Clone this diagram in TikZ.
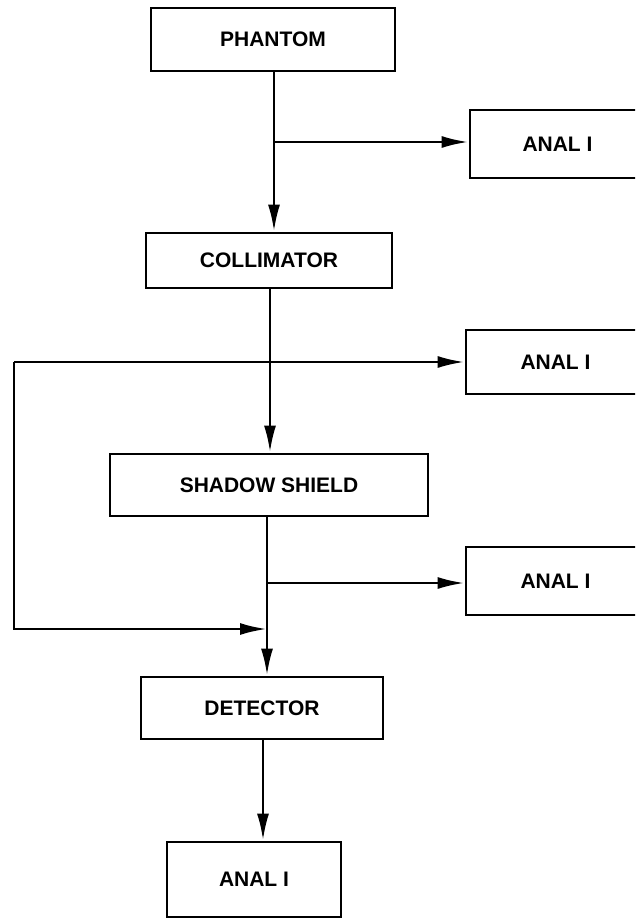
\documentclass[tikz,border=0pt]{standalone}
\usepackage{fontspec}
\setmainfont{Liberation Sans}
\usetikzlibrary{arrows.meta}
\begin{document}
\begin{tikzpicture}[x=1pt,y=-1pt,
  box/.style={draw=black, line width=2.8pt, rectangle, inner sep=0pt, anchor=center,
    font=\fontsize{21}{24}\selectfont\bfseries},
  line/.style={draw=black, line width=2.8pt},
  arr/.style={line, -{Latex[length=27pt,width=12pt]}}]
\useasboundingbox (0,0) rectangle (635,920);
\clip (0,0) rectangle (635,920);
% boxes
\node[box, minimum width=244pt, minimum height=63pt] (ph) at (273,39.5) {PHANTOM\hspace{28pt}};
\node[box, minimum width=175pt, minimum height=68pt] (a1) at (557.5,144) {ANAL I};
\node[box, minimum width=246pt, minimum height=55pt] (co) at (269,260.5) {COLLIMATOR\hspace{18pt}};
\node[box, minimum width=179pt, minimum height=64pt] (a2) at (555.5,362) {ANAL I};
\node[box, minimum width=318pt, minimum height=62pt] (ss) at (269,485) {SHADOW SHIELD\hspace{20pt}};
\node[box, minimum width=179pt, minimum height=68pt] (a3) at (555.5,581) {ANAL I};
\node[box, minimum width=242pt, minimum height=62pt] (de) at (262,708) {DETECTOR\hspace{22pt}};
\node[box, minimum width=174pt, minimum height=75pt] (a4) at (254,879.5) {ANAL I};
% vertical guides
\coordinate (v1) at (274,0);
\coordinate (v2) at (270,0);
\coordinate (v3) at (267,0);
\coordinate (v4) at (263,0);
\coordinate (b1) at (274,142);
\coordinate (b3) at (267,583);
\coordinate (lt) at (14,362);
\coordinate (lb) at (267,629);
% connectors
\draw[arr] (v1 |- ph.south) -- (v1 |- co.north);
\draw[arr] (b1) -- (b1 -| a1.west);
\draw[arr] (v2 |- co.south) -- (v2 |- ss.north);
\draw[arr] (lt) -- (lt -| a2.west);
\draw[arr] (lt) |- (lb);
\draw[arr] (v3 |- ss.south) -- (v3 |- de.north);
\draw[arr] (b3) -- (b3 -| a3.west);
\draw[arr] (v4 |- de.south) -- (v4 |- a4.north);
\end{tikzpicture}
\end{document}
